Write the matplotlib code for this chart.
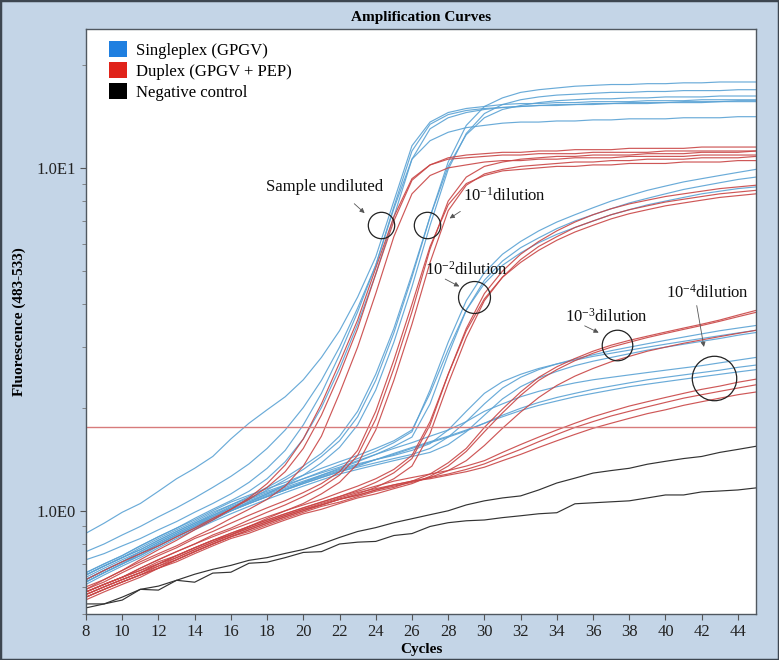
import matplotlib
matplotlib.use("Agg")
import matplotlib.pyplot as plt
from matplotlib.patches import Patch, Rectangle
from matplotlib.ticker import LogLocator, NullFormatter

plt.rcParams["font.family"] = ["Liberation Serif", "DejaVu Serif"]
plt.rcParams["mathtext.fontset"] = "custom"
plt.rcParams["mathtext.rm"] = "Liberation Serif"
plt.rcParams["mathtext.it"] = "Liberation Serif:italic"
plt.rcParams["mathtext.bf"] = "Liberation Serif:bold"

#%% data (cycles 8..45, fluorescence 483-533)
cycles = list(range(8, 46))
threshold = 1.76

# singleplex (GPGV) - undiluted
single_undiluted = [
    [0.86, 0.92, 0.99, 1.05, 1.14, 1.24, 1.33, 1.44, 1.62, 1.80, 1.97, 2.15, 2.41, 2.8, 3.35, 4.2, 5.5, 8.0, 11.6,
     13.6, 14.5, 14.9, 15.1, 15.3, 15.4, 15.4, 15.5, 15.5, 15.6, 15.6, 15.6, 15.7, 15.7, 15.7, 15.8, 15.8, 15.8, 15.8],
    [0.76, 0.80, 0.85, 0.90, 0.96, 1.02, 1.09, 1.17, 1.26, 1.37, 1.52, 1.72, 2.0, 2.4, 3.0, 3.9, 5.2, 7.6, 10.6,
     12.0, 12.7, 13.1, 13.3, 13.5, 13.6, 13.6, 13.7, 13.7, 13.8, 13.8, 13.9, 13.9, 13.9, 14.0, 14.0, 14.0, 14.1, 14.1],
    [0.72, 0.75, 0.79, 0.83, 0.88, 0.93, 0.99, 1.05, 1.12, 1.21, 1.33, 1.5, 1.78, 2.2, 2.85, 3.8, 5.2, 7.7, 11.2,
     13.4, 14.3, 14.7, 14.9, 15.0, 15.1, 15.2, 15.2, 15.3, 15.3, 15.4, 15.4, 15.4, 15.5, 15.5, 15.5, 15.6, 15.6, 15.6],
    [0.66, 0.70, 0.74, 0.79, 0.84, 0.89, 0.95, 1.01, 1.07, 1.14, 1.24, 1.39, 1.62, 2.0, 2.6, 3.5, 4.9, 7.2, 10.6,
     13.0, 14.0, 14.5, 14.8, 15.0, 15.1, 15.2, 15.3, 15.3, 15.4, 15.4, 15.5, 15.5, 15.5, 15.6, 15.6, 15.6, 15.7, 15.7],
]
# duplex (GPGV + PEP) - undiluted
duplex_undiluted = [
    [0.63, 0.67, 0.71, 0.75, 0.79, 0.84, 0.89, 0.95, 1.01, 1.08, 1.17, 1.3, 1.52, 1.9, 2.5, 3.4, 4.9, 7.0, 9.2,
     10.2, 10.7, 10.9, 11.0, 11.1, 11.1, 11.2, 11.2, 11.3, 11.3, 11.3, 11.4, 11.4, 11.4, 11.4, 11.5, 11.5, 11.5, 11.5],
    [0.60, 0.63, 0.67, 0.71, 0.75, 0.79, 0.84, 0.89, 0.95, 1.01, 1.08, 1.18, 1.35, 1.65, 2.2, 3.0, 4.3, 6.3, 8.4,
     9.5, 10.0, 10.2, 10.4, 10.5, 10.5, 10.6, 10.6, 10.7, 10.7, 10.7, 10.8, 10.8, 10.8, 10.8, 10.9, 10.9, 10.9, 10.9],
    [0.59, 0.63, 0.67, 0.72, 0.77, 0.82, 0.88, 0.94, 1.01, 1.09, 1.2, 1.36, 1.62, 2.05, 2.7, 3.6, 5.1, 7.2, 9.3,
     10.2, 10.6, 10.7, 10.8, 10.9, 10.9, 11.0, 11.0, 11.0, 11.1, 11.1, 11.1, 11.1, 11.2, 11.2, 11.2, 11.2, 11.2, 11.2],
]

# 10^-1 dilution
single_d1 = [
    [0.63, 0.67, 0.71, 0.75, 0.80, 0.85, 0.90, 0.96, 1.02, 1.08, 1.15, 1.23, 1.32, 1.44, 1.6, 1.88, 2.4, 3.3, 4.8,
     7.2, 10.4, 13.3, 15.1, 16.0, 16.6, 16.9, 17.1, 17.3, 17.4, 17.5, 17.5, 17.6, 17.6, 17.7, 17.7, 17.8, 17.8, 17.8],
    [0.62, 0.66, 0.70, 0.74, 0.79, 0.84, 0.89, 0.94, 1.00, 1.06, 1.12, 1.19, 1.27, 1.38, 1.53, 1.78, 2.25, 3.1, 4.5,
     6.8, 9.9, 12.6, 14.4, 15.3, 15.8, 16.1, 16.3, 16.4, 16.5, 16.6, 16.6, 16.7, 16.7, 16.8, 16.8, 16.8, 16.9, 16.9],
    [0.65, 0.69, 0.73, 0.77, 0.82, 0.87, 0.92, 0.98, 1.04, 1.10, 1.17, 1.25, 1.35, 1.47, 1.65, 1.95, 2.5, 3.4, 4.9,
     7.2, 10.1, 12.5, 14.0, 14.8, 15.2, 15.5, 15.7, 15.8, 15.9, 15.9, 16.0, 16.0, 16.1, 16.1, 16.1, 16.2, 16.2, 16.2],
]
duplex_d1 = [
    [0.58, 0.61, 0.64, 0.68, 0.72, 0.76, 0.80, 0.85, 0.89, 0.94, 0.99, 1.04, 1.10, 1.17, 1.27, 1.45, 1.85, 2.6, 3.8,
     5.8, 8.0, 9.4, 10.1, 10.4, 10.6, 10.7, 10.8, 10.8, 10.9, 10.9, 10.9, 11.0, 11.0, 11.0, 11.1, 11.1, 11.1, 11.2],
    [0.56, 0.59, 0.62, 0.65, 0.69, 0.73, 0.77, 0.81, 0.85, 0.90, 0.95, 1.00, 1.05, 1.12, 1.21, 1.37, 1.72, 2.4, 3.5,
     5.3, 7.5, 8.9, 9.6, 9.9, 10.1, 10.2, 10.3, 10.4, 10.4, 10.5, 10.5, 10.6, 10.6, 10.6, 10.7, 10.7, 10.7, 10.8],
    [0.59, 0.62, 0.66, 0.70, 0.74, 0.78, 0.83, 0.87, 0.92, 0.97, 1.02, 1.07, 1.13, 1.20, 1.30, 1.50, 1.95, 2.75, 4.0,
     5.9, 7.8, 9.0, 9.5, 9.8, 9.9, 10.0, 10.1, 10.1, 10.2, 10.2, 10.3, 10.3, 10.3, 10.4, 10.4, 10.4, 10.5, 10.5],
]

# 10^-2 dilution
single_d2 = [
    [0.64, 0.68, 0.72, 0.76, 0.81, 0.86, 0.91, 0.97, 1.03, 1.08, 1.13, 1.18, 1.24, 1.30, 1.36, 1.42, 1.49, 1.58, 1.70,
     2.25, 3.1, 4.1, 4.95, 5.6, 6.1, 6.55, 6.95, 7.3, 7.65, 8.0, 8.3, 8.6, 8.85, 9.1, 9.3, 9.5, 9.7, 9.9],
    [0.62, 0.66, 0.70, 0.74, 0.79, 0.84, 0.89, 0.94, 1.00, 1.05, 1.10, 1.15, 1.21, 1.27, 1.33, 1.39, 1.46, 1.54, 1.64,
     2.05, 2.85, 3.85, 4.7, 5.35, 5.85, 6.25, 6.65, 7.0, 7.3, 7.6, 7.9, 8.15, 8.4, 8.65, 8.85, 9.05, 9.25, 9.4],
    [0.66, 0.70, 0.74, 0.79, 0.84, 0.89, 0.94, 1.00, 1.06, 1.11, 1.16, 1.21, 1.27, 1.33, 1.39, 1.45, 1.52, 1.60, 1.72,
     2.2, 2.95, 3.85, 4.6, 5.2, 5.65, 6.05, 6.4, 6.7, 7.0, 7.3, 7.55, 7.8, 8.0, 8.2, 8.4, 8.55, 8.7, 8.8],
]
duplex_d2 = [
    [0.57, 0.60, 0.63, 0.66, 0.70, 0.74, 0.78, 0.82, 0.86, 0.90, 0.94, 0.98, 1.02, 1.06, 1.10, 1.15, 1.21, 1.29, 1.42,
     1.78, 2.5, 3.4, 4.3, 5.0, 5.6, 6.1, 6.55, 6.95, 7.3, 7.6, 7.85, 8.05, 8.25, 8.4, 8.55, 8.7, 8.8, 8.9],
    [0.55, 0.58, 0.61, 0.64, 0.68, 0.72, 0.76, 0.80, 0.84, 0.88, 0.92, 0.96, 1.00, 1.04, 1.08, 1.12, 1.17, 1.24, 1.35,
     1.68, 2.35, 3.2, 4.1, 4.8, 5.4, 5.9, 6.3, 6.7, 7.0, 7.3, 7.55, 7.75, 7.95, 8.1, 8.25, 8.4, 8.5, 8.6],
    [0.58, 0.61, 0.64, 0.68, 0.72, 0.76, 0.80, 0.84, 0.88, 0.92, 0.96, 1.00, 1.04, 1.08, 1.13, 1.18, 1.24, 1.32, 1.45,
     1.82, 2.5, 3.35, 4.15, 4.8, 5.3, 5.75, 6.15, 6.5, 6.8, 7.1, 7.35, 7.55, 7.75, 7.9, 8.05, 8.2, 8.3, 8.4],
]

# 10^-3 dilution
single_d3 = [
    [0.63, 0.67, 0.71, 0.75, 0.80, 0.85, 0.90, 0.95, 1.00, 1.05, 1.10, 1.15, 1.20, 1.25, 1.30, 1.34, 1.38, 1.42, 1.46,
     1.52, 1.64, 1.82, 2.05, 2.28, 2.45, 2.58, 2.68, 2.77, 2.85, 2.93, 3.0, 3.07, 3.14, 3.21, 3.28, 3.35, 3.41, 3.47],
    [0.61, 0.65, 0.69, 0.73, 0.78, 0.83, 0.88, 0.93, 0.98, 1.03, 1.08, 1.13, 1.18, 1.23, 1.28, 1.32, 1.36, 1.40, 1.44,
     1.48, 1.56, 1.70, 1.90, 2.12, 2.30, 2.44, 2.55, 2.65, 2.73, 2.8, 2.87, 2.94, 3.0, 3.06, 3.12, 3.18, 3.25, 3.31],
    [0.65, 0.69, 0.73, 0.77, 0.82, 0.87, 0.92, 0.97, 1.02, 1.07, 1.12, 1.17, 1.22, 1.27, 1.32, 1.37, 1.41, 1.45, 1.50,
     1.57, 1.72, 1.95, 2.2, 2.38, 2.5, 2.6, 2.68, 2.75, 2.82, 2.88, 2.94, 3.0, 3.06, 3.12, 3.18, 3.24, 3.3, 3.36],
]
duplex_d3 = [
    [0.57, 0.60, 0.63, 0.66, 0.69, 0.72, 0.76, 0.80, 0.84, 0.87, 0.91, 0.95, 0.99, 1.03, 1.06, 1.10, 1.14, 1.17, 1.22,
     1.28, 1.38, 1.52, 1.75, 1.98, 2.22, 2.45, 2.63, 2.78, 2.92, 3.04, 3.14, 3.23, 3.32, 3.41, 3.5, 3.6, 3.72, 3.84],
    [0.56, 0.59, 0.62, 0.65, 0.68, 0.71, 0.75, 0.79, 0.83, 0.86, 0.90, 0.94, 0.98, 1.01, 1.05, 1.09, 1.12, 1.16, 1.20,
     1.26, 1.35, 1.49, 1.70, 1.93, 2.17, 2.40, 2.58, 2.74, 2.88, 3.0, 3.1, 3.2, 3.29, 3.38, 3.47, 3.57, 3.68, 3.79],
    [0.58, 0.61, 0.64, 0.67, 0.70, 0.74, 0.78, 0.82, 0.85, 0.89, 0.93, 0.97, 1.01, 1.04, 1.08, 1.11, 1.15, 1.18, 1.21,
     1.25, 1.31, 1.40, 1.55, 1.74, 1.94, 2.14, 2.32, 2.47, 2.6, 2.72, 2.82, 2.92, 3.0, 3.08, 3.15, 3.22, 3.29, 3.36],
]

# 10^-4 dilution
single_d4 = [
    [0.65, 0.69, 0.73, 0.78, 0.83, 0.88, 0.93, 0.99, 1.04, 1.09, 1.14, 1.19, 1.24, 1.29, 1.34, 1.40, 1.46, 1.52, 1.58,
     1.65, 1.72, 1.82, 1.95, 2.05, 2.15, 2.23, 2.30, 2.36, 2.41, 2.45, 2.49, 2.53, 2.57, 2.61, 2.65, 2.70, 2.75, 2.80],
    [0.62, 0.66, 0.70, 0.75, 0.80, 0.85, 0.90, 0.95, 1.00, 1.05, 1.10, 1.15, 1.20, 1.25, 1.30, 1.35, 1.41, 1.46, 1.52,
     1.58, 1.64, 1.71, 1.80, 1.90, 1.99, 2.07, 2.14, 2.2, 2.26, 2.31, 2.36, 2.41, 2.45, 2.49, 2.53, 2.57, 2.62, 2.66],
    [0.63, 0.67, 0.71, 0.76, 0.81, 0.86, 0.91, 0.96, 1.01, 1.06, 1.11, 1.16, 1.21, 1.26, 1.31, 1.36, 1.41, 1.47, 1.53,
     1.59, 1.65, 1.72, 1.80, 1.88, 1.96, 2.03, 2.09, 2.15, 2.2, 2.25, 2.3, 2.34, 2.38, 2.42, 2.46, 2.5, 2.54, 2.58],
]
duplex_d4 = [
    [0.58, 0.61, 0.64, 0.67, 0.71, 0.74, 0.78, 0.82, 0.86, 0.90, 0.94, 0.98, 1.02, 1.06, 1.10, 1.14, 1.18, 1.22, 1.25,
     1.28, 1.31, 1.35, 1.40, 1.48, 1.56, 1.64, 1.72, 1.80, 1.88, 1.95, 2.02, 2.08, 2.14, 2.2, 2.26, 2.31, 2.37, 2.42],
    [0.56, 0.59, 0.62, 0.65, 0.68, 0.72, 0.76, 0.80, 0.84, 0.88, 0.92, 0.96, 1.00, 1.04, 1.08, 1.11, 1.15, 1.19, 1.22,
     1.25, 1.28, 1.32, 1.37, 1.44, 1.51, 1.59, 1.67, 1.75, 1.82, 1.89, 1.95, 2.01, 2.07, 2.13, 2.18, 2.23, 2.28, 2.33],
    [0.57, 0.60, 0.63, 0.66, 0.70, 0.73, 0.77, 0.81, 0.85, 0.89, 0.93, 0.97, 1.01, 1.05, 1.09, 1.13, 1.16, 1.19, 1.22,
     1.24, 1.27, 1.30, 1.34, 1.40, 1.46, 1.53, 1.60, 1.67, 1.74, 1.80, 1.86, 1.92, 1.97, 2.03, 2.08, 2.13, 2.18, 2.22],
]

# negative controls
negative = [
    [0.535, 0.535, 0.56, 0.59, 0.587, 0.627, 0.619, 0.658, 0.662, 0.703, 0.708, 0.73, 0.756, 0.76, 0.80, 0.81, 0.814,
     0.847, 0.858, 0.90, 0.923, 0.935, 0.94, 0.955, 0.967, 0.98, 0.987, 1.048, 1.055, 1.062, 1.069, 1.09, 1.112,
     1.112, 1.135, 1.142, 1.15, 1.166],
    [0.521, 0.535, 0.549, 0.59, 0.603, 0.627, 0.653, 0.675, 0.693, 0.717, 0.73, 0.751, 0.771, 0.80, 0.836, 0.87,
     0.893, 0.923, 0.948, 0.974, 1.0, 1.04, 1.069, 1.09, 1.105, 1.15, 1.205, 1.245, 1.288, 1.31, 1.33, 1.367, 1.394,
     1.42, 1.44, 1.48, 1.51, 1.542],
]

legend_labels = ["Singleplex (GPGV)", "Duplex (GPGV + PEP)", "Negative control"]

# annotations: (text, text pos, arrow tail, arrow head, circle centre, circle diameter pt)
notes = [
    ("Sample undiluted", (21.2, 8.8), (22.7, 7.96), (23.5, 7.29), (24.3, 6.82), 19),
    ("10$^{-1}$dilution", (28.8, 8.3), (28.8, 7.54), (27.95, 7.05), (26.85, 6.82), 19),
    ("10$^{-2}$dilution", (26.7, 5.05), (27.7, 4.78), (28.75, 4.47), (29.4, 4.2), 23),
    ("10$^{-3}$dilution", (34.45, 3.68), (35.4, 3.49), (36.45, 3.28), (37.3, 3.05), 22),
    ("10$^{-4}$dilution", (40.05, 4.32), (41.7, 4.04), (42.15, 2.95), (42.7, 2.44), 32),
]

#%% plot
bg = "#c4d5e7"
blue = "#5aa2d4"
red = "#c94545"

fig = plt.figure(figsize=(7.79, 6.6), dpi=100, facecolor=bg)
ax = fig.add_axes([0.1104, 0.0697, 0.8601, 0.8863])
ax.set_facecolor("white")

for grp in [single_undiluted, single_d1, single_d2, single_d3, single_d4]:
    for ys in grp:
        ax.plot(cycles, ys, color=blue, lw=0.85, alpha=0.9)
for grp in [duplex_undiluted, duplex_d1, duplex_d2, duplex_d3, duplex_d4]:
    for ys in grp:
        ax.plot(cycles, ys, color=red, lw=0.85, alpha=0.9)
for ys in negative:
    ax.plot(cycles, ys, color="#333333", lw=0.85)

ax.axhline(threshold, color="#d77b7b", lw=1.0)

ax.set_yscale("log")
ax.set_xlim(8, 45)
ax.set_ylim(0.5, 25.4)
ax.set_xticks(range(8, 45, 2))
ax.set_yticks([1, 10])
ax.set_yticklabels(["1.0E0", "1.0E1"])
ax.yaxis.set_minor_locator(LogLocator(base=10, subs=range(2, 10)))
ax.yaxis.set_minor_formatter(NullFormatter())
ax.tick_params(axis="both", which="major", labelsize=12, colors="#555555", labelcolor="#222222", length=4)
ax.tick_params(axis="y", which="minor", colors="#777777", length=3)
for sp in ax.spines.values():
    sp.set_color("#505860")
    sp.set_linewidth(1.0)

ax.set_title("Amplification Curves", fontsize=11, fontweight="bold", pad=6)
ax.set_xlabel("Cycles", fontsize=11, fontweight="bold", labelpad=2)
ax.set_ylabel("Fluorescence (483-533)", fontsize=11, fontweight="bold", labelpad=7)

for text, tpos, tail, head, centre, dia in notes:
    ha = "center" if text.startswith("Sample") else "left"
    ax.text(tpos[0], tpos[1], text, fontsize=12, ha=ha, va="center", color="#111111")
    ax.annotate("", xy=head, xytext=tail,
                arrowprops=dict(arrowstyle="-|>", color="#555555", lw=0.6, mutation_scale=7))
    ax.plot([centre[0]], [centre[1]], marker="o", ms=dia, mfc="none", mec="#222222", mew=0.9)

handles = [Patch(facecolor="#1f7fe0", edgecolor="none"),
           Patch(facecolor="#e0231a", edgecolor="none"),
           Patch(facecolor="black", edgecolor="none")]
ax.legend(handles, legend_labels, loc="upper left", bbox_to_anchor=(0.012, 1.005), frameon=False,
          fontsize=12, handlelength=1.1, handleheight=1.1, handletextpad=0.5, labelspacing=0.2)

fig.patches.append(Rectangle((0, 0), 1, 1, transform=fig.transFigure, fill=False,
                             edgecolor="#3d4650", lw=2.5))

fig.savefig("out.png", dpi=100, facecolor=bg)
